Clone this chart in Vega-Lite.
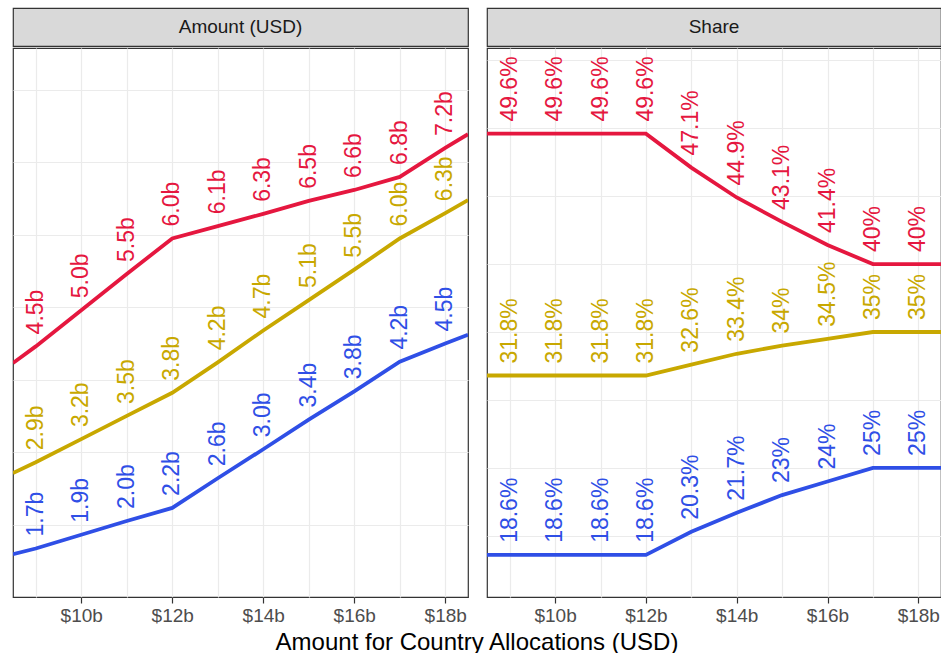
{
  "$schema": "https://vega.github.io/schema/vega-lite/v6.json",
  "background": "white",
  "padding": {"left": 12, "top": 7, "right": 0, "bottom": 0},
  "title": {"text": "Amount for Country Allocations (USD)", "orient": "bottom", "anchor": "middle", "fontSize": 24, "font": "Liberation Sans", "fontWeight": "normal", "color": "#000000", "offset": 5},
  "config": {
    "font": "Liberation Sans",
    "axis": {"gridColor": "#ebebeb", "gridWidth": 1.2},
    "axisY": {"minExtent": 0, "maxExtent": 0, "labelPadding": 0, "offset": 0}
  },
  "datasets": {
    "amount": [
      {"x": 8.5, "series": "Group 1", "value": 4.23, "label": ""},
      {"x": 9, "series": "Group 1", "value": 4.46, "label": "4.5b"},
      {"x": 10, "series": "Group 1", "value": 4.96, "label": "5.0b"},
      {"x": 11, "series": "Group 1", "value": 5.46, "label": "5.5b"},
      {"x": 12, "series": "Group 1", "value": 5.95, "label": "6.0b"},
      {"x": 13, "series": "Group 1", "value": 6.12, "label": "6.1b"},
      {"x": 14, "series": "Group 1", "value": 6.29, "label": "6.3b"},
      {"x": 15, "series": "Group 1", "value": 6.47, "label": "6.5b"},
      {"x": 16, "series": "Group 1", "value": 6.62, "label": "6.6b"},
      {"x": 17, "series": "Group 1", "value": 6.8, "label": "6.8b"},
      {"x": 18, "series": "Group 1", "value": 7.2, "label": "7.2b"},
      {"x": 18.5, "series": "Group 1", "value": 7.39, "label": ""},
      {"x": 8.5, "series": "Group 2", "value": 2.71, "label": ""},
      {"x": 9, "series": "Group 2", "value": 2.86, "label": "2.9b"},
      {"x": 10, "series": "Group 2", "value": 3.18, "label": "3.2b"},
      {"x": 11, "series": "Group 2", "value": 3.5, "label": "3.5b"},
      {"x": 12, "series": "Group 2", "value": 3.82, "label": "3.8b"},
      {"x": 13, "series": "Group 2", "value": 4.24, "label": "4.2b"},
      {"x": 14, "series": "Group 2", "value": 4.68, "label": "4.7b"},
      {"x": 15, "series": "Group 2", "value": 5.1, "label": "5.1b"},
      {"x": 16, "series": "Group 2", "value": 5.52, "label": "5.5b"},
      {"x": 17, "series": "Group 2", "value": 5.95, "label": "6.0b"},
      {"x": 18, "series": "Group 2", "value": 6.3, "label": "6.3b"},
      {"x": 18.5, "series": "Group 2", "value": 6.48, "label": ""},
      {"x": 8.5, "series": "Group 3", "value": 1.59, "label": ""},
      {"x": 9, "series": "Group 3", "value": 1.67, "label": "1.7b"},
      {"x": 10, "series": "Group 3", "value": 1.86, "label": "1.9b"},
      {"x": 11, "series": "Group 3", "value": 2.05, "label": "2.0b"},
      {"x": 12, "series": "Group 3", "value": 2.23, "label": "2.2b"},
      {"x": 13, "series": "Group 3", "value": 2.64, "label": "2.6b"},
      {"x": 14, "series": "Group 3", "value": 3.04, "label": "3.0b"},
      {"x": 15, "series": "Group 3", "value": 3.45, "label": "3.4b"},
      {"x": 16, "series": "Group 3", "value": 3.84, "label": "3.8b"},
      {"x": 17, "series": "Group 3", "value": 4.25, "label": "4.2b"},
      {"x": 18, "series": "Group 3", "value": 4.5, "label": "4.5b"},
      {"x": 18.5, "series": "Group 3", "value": 4.62, "label": ""}
    ],
    "share": [
      {"x": 8.5, "series": "Group 1", "value": 49.6, "label": ""},
      {"x": 9, "series": "Group 1", "value": 49.6, "label": "49.6%"},
      {"x": 10, "series": "Group 1", "value": 49.6, "label": "49.6%"},
      {"x": 11, "series": "Group 1", "value": 49.6, "label": "49.6%"},
      {"x": 12, "series": "Group 1", "value": 49.6, "label": "49.6%"},
      {"x": 13, "series": "Group 1", "value": 47.1, "label": "47.1%"},
      {"x": 14, "series": "Group 1", "value": 44.9, "label": "44.9%"},
      {"x": 15, "series": "Group 1", "value": 43.1, "label": "43.1%"},
      {"x": 16, "series": "Group 1", "value": 41.4, "label": "41.4%"},
      {"x": 17, "series": "Group 1", "value": 40.0, "label": "40%"},
      {"x": 18, "series": "Group 1", "value": 40.0, "label": "40%"},
      {"x": 18.5, "series": "Group 1", "value": 40.0, "label": ""},
      {"x": 8.5, "series": "Group 2", "value": 31.8, "label": ""},
      {"x": 9, "series": "Group 2", "value": 31.8, "label": "31.8%"},
      {"x": 10, "series": "Group 2", "value": 31.8, "label": "31.8%"},
      {"x": 11, "series": "Group 2", "value": 31.8, "label": "31.8%"},
      {"x": 12, "series": "Group 2", "value": 31.8, "label": "31.8%"},
      {"x": 13, "series": "Group 2", "value": 32.6, "label": "32.6%"},
      {"x": 14, "series": "Group 2", "value": 33.4, "label": "33.4%"},
      {"x": 15, "series": "Group 2", "value": 34.0, "label": "34%"},
      {"x": 16, "series": "Group 2", "value": 34.5, "label": "34.5%"},
      {"x": 17, "series": "Group 2", "value": 35.0, "label": "35%"},
      {"x": 18, "series": "Group 2", "value": 35.0, "label": "35%"},
      {"x": 18.5, "series": "Group 2", "value": 35.0, "label": ""},
      {"x": 8.5, "series": "Group 3", "value": 18.6, "label": ""},
      {"x": 9, "series": "Group 3", "value": 18.6, "label": "18.6%"},
      {"x": 10, "series": "Group 3", "value": 18.6, "label": "18.6%"},
      {"x": 11, "series": "Group 3", "value": 18.6, "label": "18.6%"},
      {"x": 12, "series": "Group 3", "value": 18.6, "label": "18.6%"},
      {"x": 13, "series": "Group 3", "value": 20.3, "label": "20.3%"},
      {"x": 14, "series": "Group 3", "value": 21.7, "label": "21.7%"},
      {"x": 15, "series": "Group 3", "value": 23.0, "label": "23%"},
      {"x": 16, "series": "Group 3", "value": 24.0, "label": "24%"},
      {"x": 17, "series": "Group 3", "value": 25.0, "label": "25%"},
      {"x": 18, "series": "Group 3", "value": 25.0, "label": "25%"},
      {"x": 18.5, "series": "Group 3", "value": 25.0, "label": ""}
    ]
  },
  "hconcat": [
    {
      "spacing": 0,
      "vconcat": [
        {
          "data": {"values": [{"panel": "Amount (USD)"}]},
          "width": 455,
          "height": 38,
          "view": {"fill": "#d9d9d9", "stroke": "#333333", "strokeWidth": 1.2},
          "mark": {"type": "text", "fontSize": 19, "font": "Liberation Sans", "color": "#1a1a1a", "baseline": "middle", "align": "center"},
          "encoding": {"text": {"field": "panel"}}
        },
        {
          "data": {"name": "amount"},
          "width": 455,
          "height": 549,
          "view": {"stroke": "#333333", "strokeWidth": 1.2},
          "encoding": {
            "x": {"field": "x", "type": "quantitative", "scale": {"domain": [8.5, 18.5], "nice": false, "zero": false},
              "axis": {"title": null, "values": [9, 10, 11, 12, 13, 14, 15, 16, 17, 18], "labelExpr": "datum.value % 2 == 0 ? '$' + datum.value + 'b' : ''", "labelFontSize": 19, "labelColor": "#4d4d4d", "labelFont": "Liberation Sans", "labelPadding": 3, "tickSize": 6, "tickWidth": 1.2, "tickColor": {"condition": {"test": "datum.value % 2 == 0", "value": "#333333"}, "value": "transparent"}, "domain": false, "grid": true}},
            "y": {"field": "value", "type": "quantitative", "scale": {"domain": [1.0, 8.58], "nice": false, "zero": false},
              "axis": {"title": null, "values": [2, 3, 4, 5, 6, 7, 8], "labels": false, "ticks": false, "domain": false, "grid": true}},
            "color": {"field": "series", "type": "nominal", "legend": null, "scale": {"domain": ["Group 1", "Group 2", "Group 3"], "range": ["#e5173f", "#c8a800", "#2f4fe6"]}}
          },
          "layer": [
            {"mark": {"type": "line", "strokeWidth": 3.8, "clip": true}},
            {"transform": [{"filter": "datum.label != ''"}],
             "mark": {"type": "text", "angle": 270, "align": "left", "baseline": "middle", "dx": 12, "fontSize": 23, "font": "Liberation Sans"},
             "encoding": {"text": {"field": "label"}}}
          ]
        }
      ]
    },
    {
      "spacing": 0,
      "vconcat": [
        {
          "data": {"values": [{"panel": "Share"}]},
          "width": 454,
          "height": 38,
          "view": {"fill": "#d9d9d9", "stroke": "#333333", "strokeWidth": 1.2},
          "mark": {"type": "text", "fontSize": 19, "font": "Liberation Sans", "color": "#1a1a1a", "baseline": "middle", "align": "center"},
          "encoding": {"text": {"field": "panel"}}
        },
        {
          "data": {"name": "share"},
          "width": 454,
          "height": 549,
          "view": {"stroke": "#333333", "strokeWidth": 1.2},
          "encoding": {
            "x": {"field": "x", "type": "quantitative", "scale": {"domain": [8.5, 18.5], "nice": false, "zero": false},
              "axis": {"title": null, "values": [9, 10, 11, 12, 13, 14, 15, 16, 17, 18], "labelExpr": "datum.value % 2 == 0 ? '$' + datum.value + 'b' : ''", "labelFontSize": 19, "labelColor": "#4d4d4d", "labelFont": "Liberation Sans", "labelPadding": 3, "tickSize": 6, "tickWidth": 1.2, "tickColor": {"condition": {"test": "datum.value % 2 == 0", "value": "#333333"}, "value": "transparent"}, "domain": false, "grid": true}},
            "y": {"field": "value", "type": "quantitative", "scale": {"domain": [15.5, 55.9], "nice": false, "zero": false},
              "axis": {"title": null, "values": [20, 25, 30, 35, 40, 45, 50, 55], "labels": false, "ticks": false, "domain": false, "grid": true}},
            "color": {"field": "series", "type": "nominal", "legend": null, "scale": {"domain": ["Group 1", "Group 2", "Group 3"], "range": ["#e5173f", "#c8a800", "#2f4fe6"]}}
          },
          "layer": [
            {"mark": {"type": "line", "strokeWidth": 3.8, "clip": true}},
            {"transform": [{"filter": "datum.label != ''"}],
             "mark": {"type": "text", "angle": 270, "align": "left", "baseline": "middle", "dx": 12, "fontSize": 23, "font": "Liberation Sans"},
             "encoding": {"text": {"field": "label"}}}
          ]
        }
      ]
    }
  ],
  "spacing": 17
}
